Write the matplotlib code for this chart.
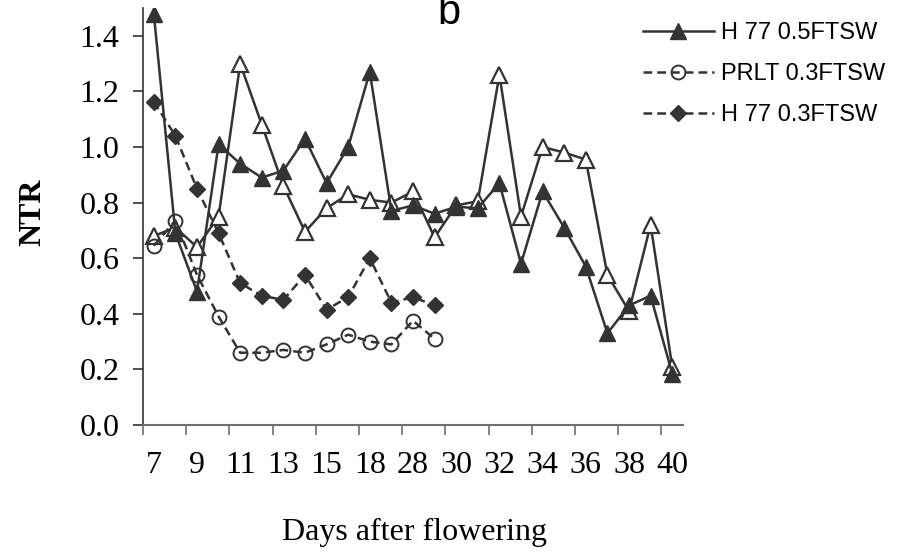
import matplotlib
matplotlib.use("Agg")
import matplotlib.pyplot as plt
import numpy as np

# category labels (every other day shown on the axis)
days_shown = ["7", "9", "11", "13", "15", "18", "28", "30", "32", "34", "36", "38", "40"]
n_cat = 25

h77_05 = [1.48, 0.69, 0.48, 1.01, 0.94, 0.89, 0.915, 1.03, 0.87, 1.00, 1.27, 0.77, 0.79,
          0.76, 0.785, 0.78, 0.87, 0.58, 0.84, 0.71, 0.57, 0.33, 0.43, 0.465, 0.185]
prlt_05 = [0.68, 0.71, 0.64, 0.75, 1.30, 1.08, 0.86, 0.695, 0.78, 0.83, 0.81, 0.80, 0.84,
           0.675, 0.79, 0.805, 1.26, 0.75, 1.00, 0.98, 0.955, 0.54, 0.41, 0.72, 0.21]
prlt_03 = [0.645, 0.735, 0.54, 0.39, 0.26, 0.26, 0.27, 0.26, 0.29, 0.325, 0.30, 0.29, 0.375, 0.31]
h77_03 = [1.163, 1.04, 0.85, 0.69, 0.51, 0.465, 0.45, 0.54, 0.415, 0.46, 0.60, 0.44, 0.46, 0.43]

col = "#333333"
serif = ["Liberation Serif", "DejaVu Serif"]
sans = ["Liberation Sans", "DejaVu Sans"]

fig = plt.figure(figsize=(9.03, 5.56), dpi=100)
ax = fig.add_axes([143 / 903, 1 - 425 / 556, 540 / 903, 417 / 556])

x = np.arange(n_cat)
x3 = np.arange(len(prlt_03))

ax.plot(x, prlt_05, color=col, lw=1.8, marker="^", ms=11, mfc="white", mec=col, mew=1.6,
        zorder=3)
ax.plot(x, h77_05, color=col, lw=1.8, marker="^", ms=11, mfc=col, mec=col,
        label="H 77 0.5FTSW", zorder=4)
ax.plot(x3, prlt_03, color=col, lw=1.8, ls=(0, (3.5, 2)), marker="o", ms=10, mfc="none",
        mec=col, mew=1.4, label="PRLT 0.3FTSW", zorder=3)
ax.plot(np.arange(len(h77_03)), h77_03, color=col, lw=1.8, ls=(0, (3.5, 2)), marker="D", ms=8,
        mfc=col, mec=col, label="H 77 0.3FTSW", zorder=3)

ax.set_xlim(-0.5, n_cat - 0.5)
ax.set_ylim(0, 1.5)
ax.set_yticks(np.arange(0, 1.41, 0.2))
ax.set_yticklabels(["%.1f" % v for v in np.arange(0, 1.41, 0.2)], family=serif, fontsize=23)

ax.set_xticks(np.arange(-0.5, n_cat - 1, 2))
ax.set_xticklabels([])
ax.set_xticks(np.arange(0, n_cat, 2), minor=True)
ax.set_xticklabels(days_shown, minor=True, family=serif, fontsize=23)
ax.tick_params(axis="x", which="major", length=7, width=1.2, color="#707070")
ax.tick_params(axis="x", which="minor", length=0, pad=19)
ax.tick_params(axis="y", length=7, width=1.2, color="#333333", pad=10)

for s in ["top", "right"]:
    ax.spines[s].set_visible(False)
ax.spines["left"].set_color("#333333")
ax.spines["left"].set_linewidth(1.2)
ax.spines["bottom"].set_color("#707070")
ax.spines["bottom"].set_linewidth(1.5)

fig.text(33 / 903, 1 - 212 / 556, "NTR", rotation=90, family=serif, fontsize=23,
         fontweight="bold", ha="center", va="center")
fig.text(415 / 903, 1 - 532 / 556, "Days after flowering", family=serif, fontsize=23,
         ha="center", va="center")
fig.text(448.5 / 903, 1 - 24 / 556, "b", family=sans, fontsize=30, ha="center", va="baseline")

fig.legend(loc="upper left", bbox_to_anchor=(643 / 903, 1 - 22 / 556), frameon=False,
           prop={"family": sans, "size": 17}, handlelength=3.0, handletextpad=0.3,
           labelspacing=0.8, borderpad=0, borderaxespad=0)

fig.savefig("out.png", dpi=100)
